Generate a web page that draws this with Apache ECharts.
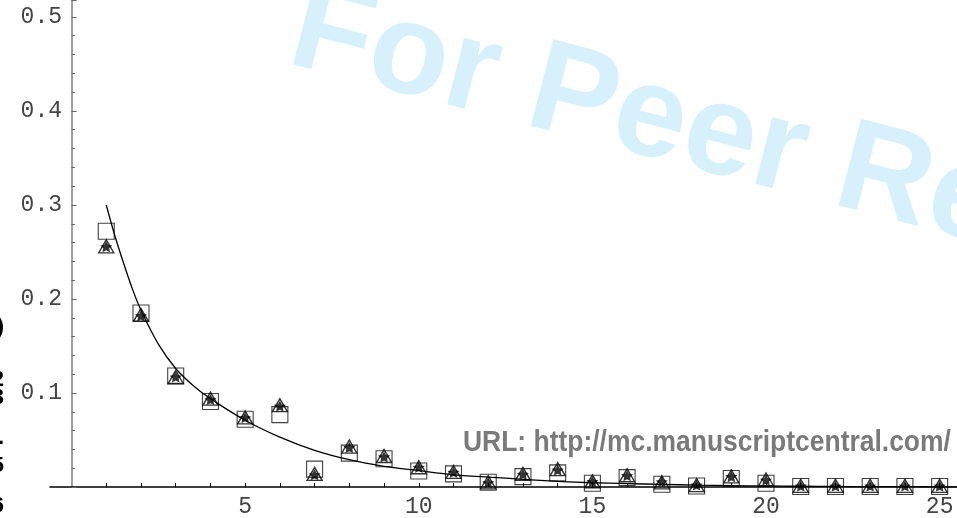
<!DOCTYPE html>
<html>
<head>
<meta charset="utf-8">
<script src="https://cdn.jsdelivr.net/npm/echarts@6/dist/echarts.min.js"></script>
<style>
html,body{margin:0;padding:0;background:#fff;}
#chart{width:957px;height:518px;}
</style>
</head>
<body>
<div id="chart"></div>
<script>
// ---- data ----
const xValues = [1,2,3,4,5,6,7,8,9,10,11,12,13,14,15,16,17,18,19,20,21,22,23,24,25];
const squareValues = [0.272,0.185,0.118,0.091,0.072,0.077,0.019,0.036,0.030,0.017,0.014,0.005,0.011,0.015,0.004,0.010,0.003,0.001,0.009,0.004,0.0005,0.0005,0.0005,0.0005,0.0005];
const triangleValues = [0.256,0.183,0.117,0.094,0.074,0.087,0.014,0.043,0.033,0.021,0.016,0.005,0.014,0.019,0.006,0.0125,0.005,0.002,0.0113,0.008,0.0013,0.0013,0.0013,0.0013,0.0013];
const starValues = [0.2556,0.182,0.117,0.093,0.0737,0.086,0.013,0.042,0.032,0.021,0.0156,0.0046,0.0135,0.018,0.0057,0.012,0.0055,0.002,0.011,0.0074,0.001,0.001,0.001,0.001,0.001];
const curveX = [1,1.25,1.5,1.75,2,2.5,3,3.5,4,5,6,7,8,9,10,11,12,13,14,15,16,17,18,19,20,21,22,23,24,25,25.5];
const curveY = [0.300,0.267,0.238,0.211,0.188,0.152,0.126,0.108,0.094,0.071,0.053,0.039,0.029,0.022,0.0174,0.013,0.0105,0.0082,0.006,0.0045,0.0036,0.0028,0.002,0.0015,0.0011,0.0008,0.0006,0.0004,0.0003,0.0002,0.0002];
const xTickValues = [1,2,3,4,5,6,7,8,9,10,11,12,13,14,15,16,17,18,19,20,21,22,23,24,25];
const xLabelValues = [5,10,15,20,25];
const watermarkText = 'For Peer Review';
const urlText = 'URL: http://mc.manuscriptcentral.com/';
const sideFragments = [[')', 333], ['2', 386], ['3', 404], ['.', 444], ['5', 472], ['6', 512]];

const pair = (ys) => xValues.map((x, i) => [x, ys[i]]);
const starPath = 'path://M50,2 L64.69,31.77 L97.55,36.55 L73.78,59.73 L79.39,92.45 L50,77 L20.61,92.45 L26.22,59.73 L2.45,36.55 L35.31,31.77 Z';
const monoFont = '"Liberation Mono", "DejaVu Sans Mono", monospace';
const WM = 130;

const chart = echarts.init(document.getElementById('chart'), null, {renderer: 'canvas'});
chart.setOption({
  animation: false,
  backgroundColor: '#ffffff',
  grid: {left: 50, right: 0, top: 0, bottom: 31, containLabel: false},
  xAxis: {
    type: 'value', min: -0.62, max: 25.5,
    axisLine: {show: true, onZero: true, lineStyle: {color: '#000', width: 1.5}},
    axisTick: {show: true, inside: true, length: 4, customValues: xTickValues, lineStyle: {color: '#000', width: 1}},
    axisLabel: {show: true, customValues: xLabelValues, margin: 8, color: '#444', fontFamily: monoFont, fontSize: 23},
    splitLine: {show: false}
  },
  yAxis: {
    type: 'value', min: 0, max: 0.518, interval: 0.1,
    axisLine: {show: true, onZero: true, lineStyle: {color: '#808080', width: 1.5}},
    axisTick: {show: true, inside: true, length: 5, lineStyle: {color: '#666', width: 1}},
    minorTick: {show: true, splitNumber: 5, length: 3.5, lineStyle: {color: '#666', width: 1}},
    axisLabel: {
      margin: -12, color: '#444', fontFamily: monoFont, fontSize: 23,
      formatter: (v) => v === 0 ? '' : v.toFixed(1)
    },
    splitLine: {show: false}
  },
  graphic: [
    {
      type: 'group', x: 283, y: 69, rotation: -0.253, z: -10, silent: true,
      children: [{
        type: 'text', x: 0, y: -0.83 * WM,
        style: {
          text: watermarkText, fill: '#d6f1fc',
          font: 'bold ' + WM + 'px "Liberation Sans", Arial, sans-serif',
          textAlign: 'left', textVerticalAlign: 'top'
        }
      }]
    },
    {
      type: 'text', x: 463, y: 428, scaleX: 0.912, z: -5, silent: true,
      style: {
        text: urlText, fill: '#7a7a7a',
        font: 'bold 29px "Liberation Sans", Arial, sans-serif',
        textAlign: 'left', textVerticalAlign: 'top'
      }
    }
  ].concat(sideFragments.map(([t, y]) => ({
    type: 'text', x: 4, y: y - 17,
    style: {text: t, fill: '#000', font: 'bold 22px "Liberation Sans"', textAlign: 'right', textVerticalAlign: 'top'}
  }))),
  series: [
    {
      name: 'squares', type: 'scatter', data: pair(squareValues),
      symbol: 'rect', symbolSize: 16, z: 3,
      itemStyle: {color: 'rgba(0,0,0,0)', borderColor: '#111', borderWidth: 1.1}
    },
    {
      name: 'triangles', type: 'scatter', data: pair(triangleValues),
      symbol: 'triangle', symbolSize: [15, 13], z: 4,
      itemStyle: {color: 'rgba(0,0,0,0)', borderColor: '#000', borderWidth: 1.4}
    },
    {
      name: 'stars', type: 'scatter', data: pair(starValues),
      symbol: starPath, symbolSize: [12, 11], z: 5,
      itemStyle: {color: '#000'}
    },
    {
      name: 'fit', type: 'line', data: curveX.map((x, i) => [x, curveY[i]]),
      showSymbol: false, symbol: 'none', smooth: 0.25, z: 6,
      lineStyle: {color: '#000', width: 1.3}
    }
  ]
});
</script>
</body>
</html>
